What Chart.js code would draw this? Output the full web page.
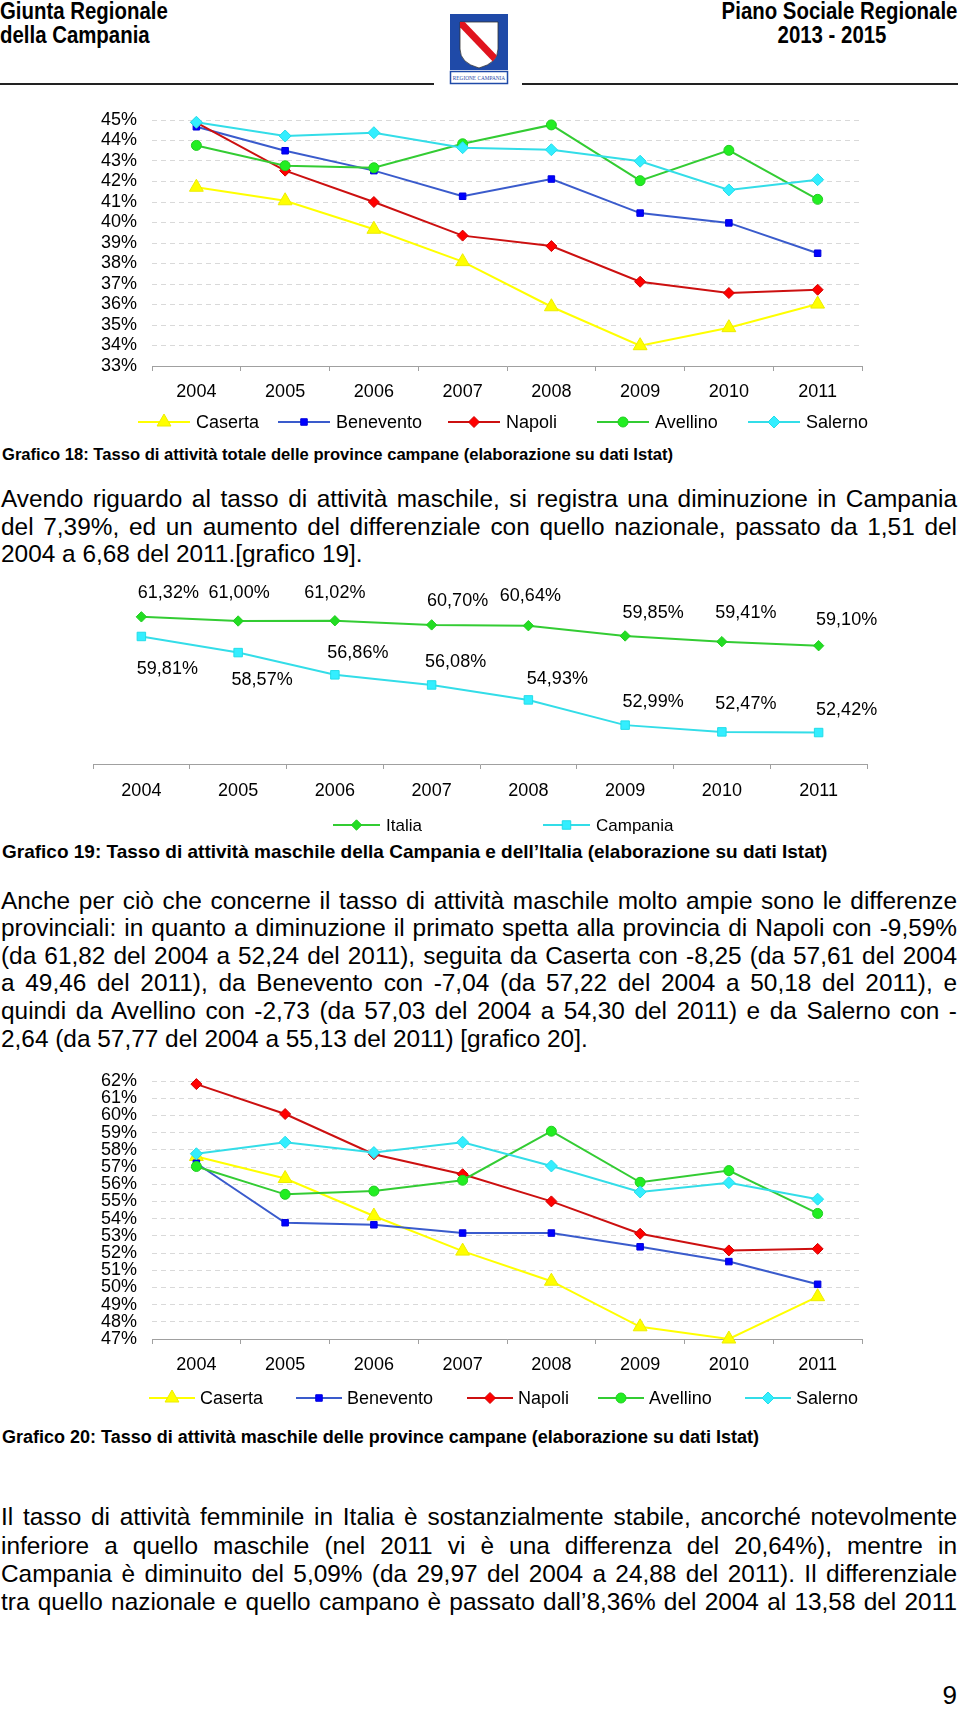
<!DOCTYPE html>
<html><head><meta charset="utf-8">
<script src="https://cdn.jsdelivr.net/npm/chart.js@4.4.1/dist/chart.umd.min.js"></script>
<style>
html,body{margin:0;padding:0;background:#fff;}
body{width:960px;height:1730px;position:relative;overflow:hidden;font-family:"Liberation Sans",Arial,sans-serif;color:#000;}
.hdr{position:absolute;font-weight:bold;font-size:24px;line-height:28px;white-space:nowrap;}
.line{position:absolute;left:1px;width:956px;font-size:24.4px;line-height:28px;white-space:pre;}
.cap{position:absolute;left:2px;font-size:18px;font-weight:bold;line-height:22px;white-space:nowrap;}
canvas{position:absolute;left:0;}
.rule{position:absolute;height:2px;background:#222;top:83px;}
</style></head>
<body>
<div class="hdr" style="left:0;top:-3px;transform:scaleX(0.85);transform-origin:left;">Giunta Regionale</div>
<div class="hdr" style="left:0;top:21px;transform:scaleX(0.85);transform-origin:left;">della Campania</div>
<div class="hdr" style="right:3px;top:-3px;transform:scaleX(0.85);transform-origin:right;">Piano Sociale Regionale</div>
<div class="hdr" style="left:732px;width:200px;text-align:center;top:21px;transform:scaleX(0.85);transform-origin:center;">2013 - 2015</div>
<div class="rule" style="left:0;width:434px;"></div>
<div class="rule" style="left:522px;width:436px;"></div>
<svg style="position:absolute;left:448px;top:13px;" width="62" height="72" viewBox="0 0 62 72">
  <defs><clipPath id="sh"><path d="M12 9 H50 V36 Q50 50 31 55 Q12 50 12 36 Z"/></clipPath></defs>
  <rect x="2" y="1" width="58" height="56" fill="#1f4aa8"/>
  <path d="M12 9 H50 V36 Q50 50 31 55 Q12 50 12 36 Z" fill="#fff" stroke="#333" stroke-width="0.8"/>
  <line x1="9" y1="6" x2="53" y2="52" stroke="#e0141e" stroke-width="7" clip-path="url(#sh)"/>
  <rect x="2.5" y="58.5" width="57" height="12" fill="#fff" stroke="#1f4aa8" stroke-width="1.5"/>
  <text x="31" y="67" font-size="5.3" text-anchor="middle" fill="#1f4aa8" font-family="Liberation Serif, serif">REGIONE CAMPANIA</text>
</svg>

<canvas id="c1" width="960" height="340" style="top:100px"></canvas>
<div class="cap" style="top:444px;font-size:16.6px;">Grafico 18: Tasso di attività totale delle province campane (elaborazione su dati Istat)</div>

<div class="line" style="top:485px"><span>Avendo riguardo al tasso di attività maschile, si registra una diminuzione in Campania</span></div>
<div class="line" style="top:513px"><span>del 7,39%, ed un aumento del differenziale con quello nazionale, passato da 1,51 del</span></div>
<div class="line" data-last="1" style="top:540px"><span>2004 a 6,68 del 2011.[grafico 19].</span></div>

<canvas id="c2" width="960" height="280" style="top:560px"></canvas>
<div class="cap" style="top:841px;font-size:19px;">Grafico 19: Tasso di attività maschile della Campania e dell’Italia (elaborazione su dati Istat)</div>

<div class="line" style="top:887px"><span>Anche per ciò che concerne il tasso di attività maschile molto ampie sono le differenze</span></div>
<div class="line" style="top:914px"><span>provinciali: in quanto a diminuzione il primato spetta alla provincia di Napoli con -9,59%</span></div>
<div class="line" style="top:942px"><span>(da 61,82 del 2004 a 52,24 del 2011), seguita da Caserta con -8,25 (da 57,61 del 2004</span></div>
<div class="line" style="top:969px"><span>a 49,46 del 2011), da Benevento con -7,04 (da 57,22 del 2004 a 50,18 del 2011), e</span></div>
<div class="line" style="top:997px"><span>quindi da Avellino con -2,73 (da 57,03 del 2004 a 54,30 del 2011) e da Salerno con -</span></div>
<div class="line" data-last="1" style="top:1025px"><span>2,64 (da 57,77 del 2004 a 55,13 del 2011) [grafico 20].</span></div>

<canvas id="c3" width="960" height="360" style="top:1060px"></canvas>
<div class="cap" style="top:1426px">Grafico 20: Tasso di attività maschile delle province campane (elaborazione su dati Istat)</div>

<div class="line" style="top:1503px"><span>Il tasso di attività femminile in Italia è sostanzialmente stabile, ancorché notevolmente</span></div>
<div class="line" style="top:1532px"><span>inferiore a quello maschile (nel 2011 vi è una differenza del 20,64%), mentre in</span></div>
<div class="line" style="top:1560px"><span>Campania è diminuito del 5,09% (da 29,97 del 2004 a 24,88 del 2011). Il differenziale</span></div>
<div class="line" style="top:1588px"><span>tra quello nazionale e quello campano è passato dall’8,36% del 2004 al 13,58 del 2011</span></div>

<div style="position:absolute;right:3px;top:1680px;font-size:26px;line-height:30px;">9</div>

<script>
// ---------- DATA ----------
const years = ['2004','2005','2006','2007','2008','2009','2010','2011'];
const provinceNames = ['Caserta','Benevento','Napoli','Avellino','Salerno'];

// Grafico 18: tasso di attività totale (%)
const g18Caserta   = [41.72, 41.06, 39.67, 38.09, 35.89, 33.99, 34.87, 36.02];
const g18Benevento = [44.67, 43.50, 42.53, 41.28, 42.12, 40.46, 39.98, 38.50];
const g18Napoli    = [44.87, 42.53, 41.00, 39.36, 38.85, 37.11, 36.56, 36.72];
const g18Avellino  = [43.76, 42.77, 42.67, 43.84, 44.76, 42.04, 43.52, 41.13];
const g18Salerno   = [44.89, 44.22, 44.38, 43.65, 43.55, 42.99, 41.59, 42.09];
const g18YMin = 33, g18YMax = 45;

// Grafico 19: tasso di attività maschile Italia / Campania (%)
const g19Names    = ['Italia','Campania'];
const g19Italia   = [61.32, 61.00, 61.02, 60.70, 60.64, 59.85, 59.41, 59.10];
const g19Campania = [59.81, 58.57, 56.86, 56.08, 54.93, 52.99, 52.47, 52.42];
const g19YMin = 50, g19YMax = 62;

// Grafico 20: tasso di attività maschile province (%)
const g20Caserta   = [57.61, 56.33, 54.15, 52.11, 50.36, 47.71, 47.00, 49.46];
const g20Benevento = [57.22, 53.76, 53.64, 53.16, 53.16, 52.36, 51.50, 50.18];
const g20Napoli    = [61.82, 60.08, 57.74, 56.58, 55.00, 53.12, 52.15, 52.24];
const g20Avellino  = [57.03, 55.41, 55.60, 56.23, 59.08, 56.11, 56.79, 54.30];
const g20Salerno   = [57.77, 58.44, 57.84, 58.44, 57.06, 55.55, 56.09, 55.13];
const g20YMin = 47, g20YMax = 62;

// ---------- STYLE ----------
const FONT = '"Liberation Sans", Arial, sans-serif';
Chart.defaults.font.family = FONT;
Chart.defaults.color = '#000';

const provinceStyles = [
  {line:'#ffff00', fill:'#ffff00', border:'#ecec00', style:'triangle', r:8},
  {line:'#3a5bcc', fill:'#0000ff', border:'#0000dd', style:'rect', r:4.6},
  {line:'#cc1010', fill:'#ff0000', border:'#d00000', style:'rectRot', r:5.5},
  {line:'#33cc33', fill:'#22ee22', border:'#22cc22', style:'circle', r:5},
  {line:'#33dde8', fill:'#33eeff', border:'#22dde8', style:'rectRot', r:6}
];
const g19Styles = [
  {line:'#33cc33', fill:'#22dd22', border:'#22cc22', style:'rectRot', r:5.2},
  {line:'#33dde8', fill:'#33eeff', border:'#22dde8', style:'rect', r:6}
];
// data label offsets (px) for Grafico 19, relative to each point
const g19ItaliaLabelDx   = [27, 1, 0, 26, 2, 28, 24, 28];
const g19ItaliaLabelDy   = [-24, -28, -28, -24, -30, -23, -29, -26];
const g19CampaniaLabelDx = [26, 24, 23, 24, 29, 28, 24, 28];
const g19CampaniaLabelDy = [33, 27, -22, -23, -21, -23, -28, -23];

function makeDatasets(names, series, styles){
  return series.map((data, i) => {
    const st = styles[i];
    return {label:names[i], data, borderColor:st.line, borderWidth:2, pointStyle:st.style,
      pointRadius:st.r, pointHoverRadius:st.r, pointBackgroundColor:st.fill, pointBorderColor:st.border,
      pointBorderWidth:1, tension:0, fill:false, clip:false, order:series.length - i};
  });
}

const lineLegend = {
  id:'lineLegend',
  afterDraw(chart, args, opts){
    const ctx = chart.ctx;
    ctx.save();
    ctx.font = opts.font;
    ctx.textBaseline = 'middle';
    chart.data.datasets.forEach((ds, i) => {
      const x0 = opts.starts[i], y = opts.y, L = opts.lineLen;
      ctx.strokeStyle = ds.borderColor; ctx.lineWidth = 2;
      ctx.beginPath(); ctx.moveTo(x0, y); ctx.lineTo(x0 + L, y); ctx.stroke();
      ctx.fillStyle = ds.pointBackgroundColor; ctx.strokeStyle = ds.pointBorderColor; ctx.lineWidth = 1;
      Chart.helpers.drawPoint(ctx, {pointStyle:ds.pointStyle, radius:ds.pointRadius, rotation:0, borderWidth:1}, x0 + L/2, y);
      ctx.fillStyle = '#000';
      ctx.fillText(ds.label, x0 + L + opts.gap, y + 1);
    });
    ctx.restore();
  }
};

const pointLabels = {
  id:'pointLabels',
  afterDatasetsDraw(chart, args, opts){
    const ctx = chart.ctx;
    ctx.save();
    ctx.font = opts.font; ctx.fillStyle = '#000'; ctx.textAlign = 'center'; ctx.textBaseline = 'middle';
    opts.sets.forEach(s => {
      const meta = chart.getDatasetMeta(s.index);
      const vals = chart.data.datasets[s.index].data;
      meta.data.forEach((pt, j) => {
        const txt = vals[j].toFixed(2).replace('.', ',') + '%';
        ctx.fillText(txt, pt.x + s.dx[j], pt.y + s.dy[j]);
      });
    });
    ctx.restore();
  }
};

function xScale(pad){
  return {type:'category', offset:true,
    grid:{display:true, offset:true, drawOnChartArea:false, drawTicks:true, tickLength:5, color:'#a0a0a0'},
    border:{display:true, color:'#a0a0a0', width:1},
    ticks:{font:{size:18}, color:'#000', padding:pad, maxRotation:0, autoSkip:false},
    afterFit(s){ s.height = 40; }};
}

function provinceChart(id, series, yMin, yMax, padding, legend){
  return new Chart(document.getElementById(id), {
    type:'line',
    data:{labels:years, datasets:makeDatasets(provinceNames, series, provinceStyles)},
    options:{
      responsive:false, animation:false, events:[],
      layout:{padding, autoPadding:false},
      plugins:{legend:{display:false}, tooltip:{enabled:false},
        lineLegend:Object.assign({font:'18px ' + FONT}, legend)},
      scales:{
        x:xScale(10),
        y:{min:yMin, max:yMax,
          grid:{color:'#d9d9d9', drawTicks:false, lineWidth:1},
          border:{display:false, dash:[5,4]},
          ticks:{stepSize:1, autoSkip:false, font:{size:18, lineHeight:0.4}, color:'#000', padding:15, callback:v => v + '%'},
          afterFit(s){ s.width = 152; }}
      }
    },
    plugins:[lineLegend]
  });
}

provinceChart('c1', [g18Caserta, g18Benevento, g18Napoli, g18Avellino, g18Salerno], g18YMin, g18YMax,
  {top:20, left:0, right:98, bottom:34},
  {starts:[138, 278, 448, 597, 748], y:322, lineLen:52, gap:6});

provinceChart('c3', [g20Caserta, g20Benevento, g20Napoli, g20Avellino, g20Salerno], g20YMin, g20YMax,
  {top:21, left:0, right:98, bottom:41},
  {starts:[149, 296, 467, 598, 745], y:338, lineLen:46, gap:5});

new Chart(document.getElementById('c2'), {
  type:'line',
  data:{labels:years, datasets:makeDatasets(g19Names, [g19Italia, g19Campania], g19Styles)},
  options:{
    responsive:false, animation:false, events:[],
    layout:{padding:{top:48, left:93, right:93, bottom:36}, autoPadding:false},
    plugins:{legend:{display:false}, tooltip:{enabled:false},
      lineLegend:{starts:[333, 543], y:265, lineLen:47, gap:6, font:'17px ' + FONT},
      pointLabels:{font:'18px ' + FONT, sets:[
        {index:0, dx:g19ItaliaLabelDx, dy:g19ItaliaLabelDy},
        {index:1, dx:g19CampaniaLabelDx, dy:g19CampaniaLabelDy}]}},
    scales:{
      x:xScale(11),
      y:{display:false, min:g19YMin, max:g19YMax}
    }
  },
  plugins:[lineLegend, pointLabels]
});

// ---------- justify body lines exactly ----------
document.querySelectorAll('.line').forEach(el => {
  if (el.dataset.last === '1') return;
  const span = el.firstElementChild;
  const natural = span.getBoundingClientRect().width;
  const spaces = (span.textContent.match(/ /g) || []).length;
  if (spaces > 0) span.style.wordSpacing = ((956 - natural) / spaces) + 'px';
});
</script>
</body></html>
